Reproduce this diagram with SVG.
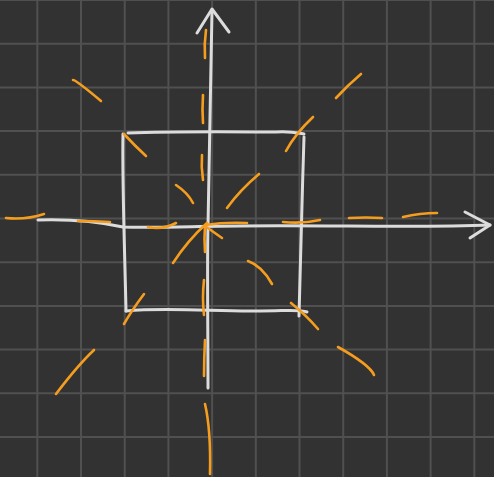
<svg xmlns="http://www.w3.org/2000/svg" width="494" height="477" viewBox="0 0 494 477">
<style>
.grid{stroke:#505050;stroke-width:2;fill:none}
.wh{stroke:#dcdcdc;stroke-width:3;fill:none;stroke-linecap:round;stroke-linejoin:round}
.or{stroke:#f59d1e;stroke-width:2.6;fill:none;stroke-linecap:round}
</style>
<rect width="494" height="477" fill="#323232"/>
<g id="grid">
<path class="grid" d="M-6.4 0V477M37.3 0V477M81 0V477M124.7 0V477M168.4 0V477M212.1 0V477M255.8 0V477M299.5 0V477M343.2 0V477M386.9 0V477M430.6 0V477M474.3 0V477M0 0H494M0 43.7H494M0 87.4H494M0 131.1H494M0 174.8H494M0 218.5H494M0 262.2H494M0 305.9H494M0 349.6H494M0 393.3H494M0 437H494"/>
</g>
<g id="square">
<path class="wh" d="M128 133C180 131 250 132 276 132C290 131 298 133 304 134"/>
<path class="wh" d="M123 134C122 180 125 260 126 311"/>
<path class="wh" d="M126 311C170 307 220 312 260 311C285 311 300 309 307 312"/>
<path class="wh" d="M304 137C302 200 300 270 299 316"/>
</g>
<g id="axes">
<path class="wh" d="M208 388C208 330 207 260 208 226C209 180 211 100 212 10"/>
<path class="wh" d="M197 33L212 9L229 32"/>
<path class="wh" d="M38 220C70 219 100 222 123 227C160 228 200 226 240 226C330 225 420 228 490 225"/>
<path class="wh" d="M465 212L490 225L470 238"/>
</g>
<g id="rays">
<path class="or" d="M205 58Q204 44 206 30M203 123Q202 110 203 95M203 180Q201 167 202 155M205 252Q204 238 205 226"/>
<path class="or" d="M204 315Q202 298 204 280M204 376Q204 358 205 340M205 404Q211 430 210 474"/>
<path class="or" d="M6 218Q26 220 44 214M78 221Q95 221 110 222M148 227Q163 230 176 223"/>
<path class="or" d="M205 225Q225 222 247 223M283 222Q302 224 320 220M349 218Q366 217 382 218M403 217Q420 213 437 213"/>
<path class="or" d="M73 80Q76 80 101 101M124 134Q135 146 146 156M176 185Q188 193 193 203"/>
<path class="or" d="M227 208Q240 190 259 174M286 151Q295 134 313 117M336 98Q348 85 361 74"/>
<path class="or" d="M205 226L222 238M248 261Q262 266 272 284M291 303Q306 315 318 329M338 347Q370 365 374 375"/>
<path class="or" d="M207 223Q188 240 173 263M144 294Q132 310 124 324M94 350Q78 365 56 394"/>
</g>
</svg>
